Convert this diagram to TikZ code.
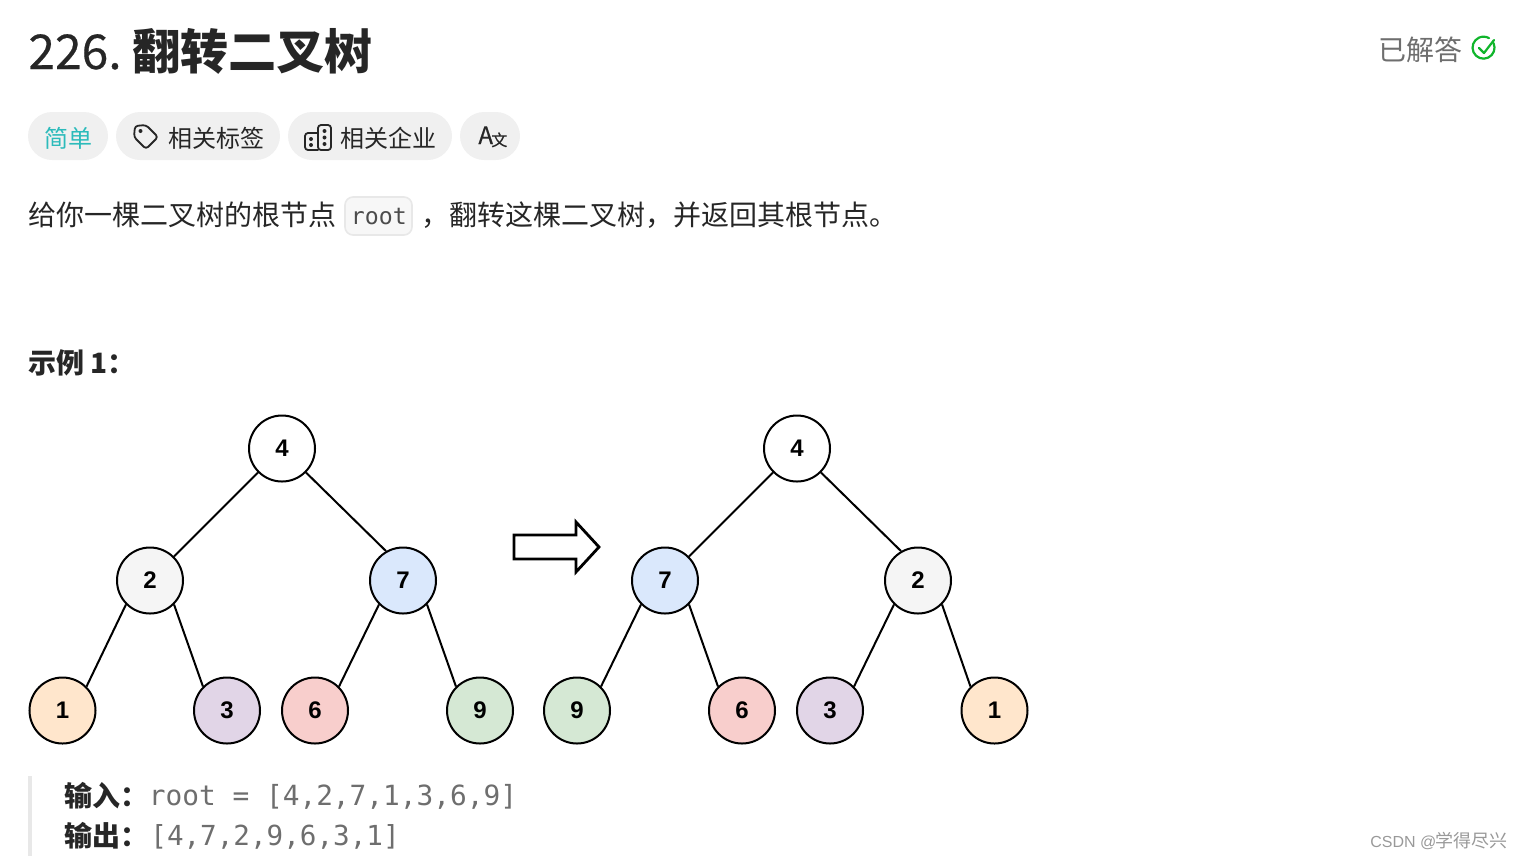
\documentclass[tikz,border=0pt]{standalone}
\usepackage{fontspec}
\setmainfont{Noto Sans CJK SC}
\setmonofont{DejaVu Sans Mono}
\newfontfamily\digitfont{Liberation Sans}
\newfontfamily\titlefont[FakeBold=0.4]{Noto Sans CJK SC}
\definecolor{inktext}{HTML}{262626}
\definecolor{greytext}{HTML}{6E6E6E}
\definecolor{pillgrey}{HTML}{F0F0F0}
\definecolor{easyteal}{HTML}{2CBBBB}
\definecolor{donegreen}{HTML}{10B52B}
\definecolor{fillgrey}{HTML}{F5F5F5}
\definecolor{fillblue}{HTML}{DAE8FC}
\definecolor{fillpeach}{HTML}{FFE6CC}
\definecolor{fillviolet}{HTML}{E1D5E7}
\definecolor{fillred}{HTML}{F8CECC}
\definecolor{fillgreen}{HTML}{D5E8D4}
\tikzset{
  txt/.style={anchor=base west,inner sep=0pt,text=inktext,font=\fontsize{14pt}{16pt}\selectfont},
  tagtxt/.style={txt,font=\fontsize{12pt}{14pt}\selectfont},
  codetxt/.style={txt,text=greytext,font=\ttfamily\fontsize{13.9pt}{16pt}\selectfont},
  treenode/.style={circle,draw=black,line width=1pt,minimum size=33pt,inner sep=0pt,font=\digitfont\bfseries\fontsize{12pt}{14pt}\selectfont},
  edge/.style={line width=1pt},
  icon/.style={line width=0.9pt,draw=inktext,line join=round,line cap=round}
}
\begin{document}
\begin{tikzpicture}[x=0.5pt,y=-0.5pt]
\useasboundingbox (0,0) rectangle (1522,859);
\node[txt,font=\fontsize{24pt}{28pt}\selectfont] (title) at (28,69) {\titlefont 226.\hspace{5.4pt}\normalfont\textbf{翻转二叉树}};
\node[txt,text=greytext] (solved) at (1378,60) {已解答};
\draw[donegreen,line width=1.1pt,line cap=round] (1493.5,43) arc (-25:300:11);
\draw[donegreen,line width=1.1pt,line cap=round,line join=round] (1479,48) -- (1484,53) -- (1494,40);
\fill[pillgrey,rounded corners=12pt] (28,112) rectangle (108,160);
\fill[pillgrey,rounded corners=12pt] (116,112) rectangle (280,160);
\fill[pillgrey,rounded corners=12pt] (288,112) rectangle (452,160);
\fill[pillgrey,rounded corners=12pt] (460,112) rectangle (520,160);
\node[tagtxt,text=easyteal] (easy) at (44,147) {简单};
\node[tagtxt] (topics) at (168,147) {相关标签};
\node[tagtxt] (firms) at (340,147) {相关企业};
\draw[icon,rounded corners=1.5pt] (135,126) -- (146,125) -- (158,137) -- (146,149) -- (134,137) -- cycle;
\fill[inktext] (140.5,131) circle (1pt);
\draw[icon,rounded corners=1.5pt] (318,125) rectangle (331,150);
\draw[icon,rounded corners=1.5pt] (318,133) -- (305,133) -- (305,150) -- (318,150);
\fill[inktext] (324.5,131) circle (1pt) (324.5,137.5) circle (1pt) (324.5,144) circle (1pt);
\fill[inktext] (311,139) circle (1pt) (311,145) circle (1pt);
\node[tagtxt,font=\titlefont\fontsize{12pt}{14pt}\selectfont] (lang) at (478,144) {A};
\node[tagtxt,font=\titlefont\fontsize{8pt}{10pt}\selectfont] (langb) at (491,146) {文};
\node[txt] (intro) at (28,225) {给你一棵二叉树的根节点};
\draw[draw=black!9,fill=black!3,line width=0.8pt,rounded corners=4pt] (345,197) rectangle (412,235);
\node[codetxt,font=\ttfamily\fontsize{11.6pt}{14pt}\selectfont,text=black!70] (rootcode) at (350.5,224) {root};
\node[txt] (intromore) at (421,225) {，};
\node[txt] (introrest) at (449,225) {翻转这棵二叉树，并返回其根节点。};
\node[txt] (example) at (28,373) {\textbf{示例 1：}};
\node[treenode] (la) at (282,448.5) {4};
\node[treenode,fill=fillgrey] (lb) at (150,580.5) {2};
\node[treenode,fill=fillblue] (lc) at (403,580.5) {7};
\node[treenode,fill=fillpeach] (ld) at (62.5,710.5) {1};
\node[treenode,fill=fillviolet] (le) at (227,710.5) {3};
\node[treenode,fill=fillred] (lf) at (315,710.5) {6};
\node[treenode,fill=fillgreen] (lg) at (480,710.5) {9};
\node[treenode] (ra) at (797,448.5) {4};
\node[treenode,fill=fillblue] (rb) at (665,580.5) {7};
\node[treenode,fill=fillgrey] (rc) at (918,580.5) {2};
\node[treenode,fill=fillgreen] (rd) at (577,710.5) {9};
\node[treenode,fill=fillred] (re) at (742,710.5) {6};
\node[treenode,fill=fillviolet] (rf) at (830,710.5) {3};
\node[treenode,fill=fillpeach] (rg) at (994.5,710.5) {1};
\foreach \s in {l,r} {
  \draw[edge] (\s a.south west) -- (\s b.north east);
  \draw[edge] (\s a.south east) -- (\s c.120);
  \draw[edge] (\s b.south west) -- (\s d.north east);
  \draw[edge] (\s b.south east) -- (\s e.north west);
  \draw[edge] (\s c.south west) -- (\s f.north east);
  \draw[edge] (\s c.south east) -- (\s g.north west);
}
\draw[line width=1.4pt,miter limit=6] (514,535) -- (576,535) -- (576,522) -- (599,547) -- (576,572) -- (576,559) -- (514,559) -- cycle;
\fill[black!9] (28,776) rectangle (32,856);
\node[txt] (input) at (64,806) {\textbf{输入：}};
\node[codetxt] (inputval) at (148.5,805) {root = [4,2,7,1,3,6,9]};
\node[txt] (output) at (64,846) {\textbf{输出：}};
\node[codetxt,font=\ttfamily\fontsize{13.8pt}{16pt}\selectfont] (outputval) at (150,845) {[4,7,2,9,6,3,1]};
\node[txt,text=black!40,font=\fontsize{9pt}{10pt}\selectfont] (mark) at (1370,847) {{\digitfont\fontsize{8pt}{10pt}\selectfont CSDN @}\hspace{-0.5pt}\rmfamily 学得尽兴};
\end{tikzpicture}
\end{document}
